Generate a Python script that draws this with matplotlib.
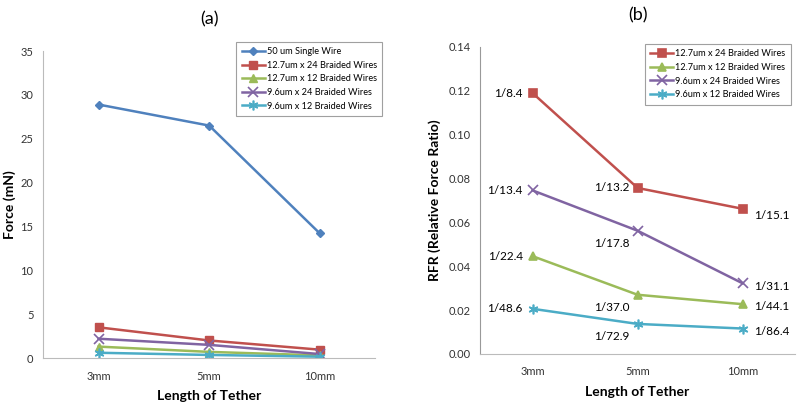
import matplotlib.pyplot as plt

plt.rcParams['font.family'] = ['Lato', 'DejaVu Sans']

# categorias del eje x
longitudes = ['3mm', '5mm', '10mm']

# (a) fuerza en mN
fuerza_50_single = [28.9, 26.5, 14.2]
fuerza_127_24 = [3.5, 2.0, 0.95]
fuerza_127_12 = [1.3, 0.7, 0.3]
fuerza_96_24 = [2.2, 1.5, 0.45]
fuerza_96_12 = [0.6, 0.35, 0.15]

# (b) RFR
rfr_127_24 = [0.119, 0.0757, 0.0662]
rfr_127_12 = [0.0446, 0.0270, 0.0227]
rfr_96_24 = [0.0746, 0.0562, 0.0322]
rfr_96_12 = [0.0206, 0.0137, 0.0116]

etq_127_24 = ['1/8.4', '1/13.2', '1/15.1']
etq_127_12 = ['1/22.4', '1/37.0', '1/44.1']
etq_96_24 = ['1/13.4', '1/17.8', '1/31.1']
etq_96_12 = ['1/48.6', '1/72.9', '1/86.4']

nombres = ['50 um Single Wire', '12.7um x 24 Braided Wires', '12.7um x 12 Braided Wires',
           '9.6um x 24 Braided Wires', '9.6um x 12 Braided Wires']

azul = '#4F81BD'
rojo = '#C0504D'
verde = '#9BBB59'
morado = '#8064A2'
cian = '#4BACC6'

fig = plt.figure(figsize=(8, 4.05), dpi=100)
ax1 = fig.add_axes([0.054, 0.116, 0.415, 0.758])
ax2 = fig.add_axes([0.600, 0.126, 0.394, 0.758])

x = range(len(longitudes))
lw = 1.8

# panel (a)
ax1.plot(x, fuerza_50_single, color=azul, marker='D', ms=4.5, lw=lw, label=nombres[0])
ax1.plot(x, fuerza_127_24, color=rojo, marker='s', ms=6, lw=lw, label=nombres[1])
ax1.plot(x, fuerza_127_12, color=verde, marker='^', ms=6, lw=lw, label=nombres[2])
ax1.plot(x, fuerza_96_24, color=morado, marker='x', ms=7, mew=1.2, lw=lw, label=nombres[3])
ax1.plot(x, fuerza_96_12, color=cian, marker=(6, 2, 0), ms=7, mew=1.2, lw=lw, label=nombres[4])

ax1.set_ylim(0, 35)
ax1.set_yticks(range(0, 36, 5))
ax1.set_ylabel('Force (mN)', fontsize=10, fontweight='bold', labelpad=3)

# panel (b)
series_b = [(rfr_127_24, etq_127_24, rojo, 's', 6, nombres[1]),
            (rfr_127_12, etq_127_12, verde, '^', 6, nombres[2]),
            (rfr_96_24, etq_96_24, morado, 'x', 7, nombres[3]),
            (rfr_96_12, etq_96_12, cian, (6, 2, 0), 7, nombres[4])]
for vals, etqs, col, mk, ms, nom in series_b:
    ax2.plot(x, vals, color=col, marker=mk, ms=ms, mew=1.2, lw=lw, label=nom)

# posicion de las etiquetas
for i, (vals, etqs) in enumerate([(rfr_127_24, etq_127_24), (rfr_127_12, etq_127_12),
                                  (rfr_96_24, etq_96_24), (rfr_96_12, etq_96_12)]):
    ax2.annotate(etqs[0], (0, vals[0]), xytext=(-7, 0), textcoords='offset points',
                 ha='right', va='center', fontsize=8.5)
    dy = 0 if i == 0 else -9
    ax2.annotate(etqs[1], (1, vals[1]), xytext=(-6, dy), textcoords='offset points',
                 ha='right', va='center', fontsize=8.5)
    dy = -5 if i == 0 else -2
    ax2.annotate(etqs[2], (2, vals[2]), xytext=(8, dy), textcoords='offset points',
                 ha='left', va='center', fontsize=8.5)

ax2.set_ylim(0, 0.14)
ax2.set_yticks([0, 0.02, 0.04, 0.06, 0.08, 0.10, 0.12, 0.14])
ax2.set_yticklabels(['%.2f' % v for v in ax2.get_yticks()])
ax2.set_ylabel('RFR (Relative Force Ratio)', fontsize=10, fontweight='bold', labelpad=5)

for ax, tit in [(ax1, '(a)'), (ax2, '(b)')]:
    ax.set_xlim(-0.5, 2.5)
    ax.set_xticks(list(x))
    ax.set_xticklabels(longitudes)
    ax.set_xlabel('Length of Tether', fontsize=10, fontweight='bold', labelpad=6)
    ax.tick_params(length=0, labelsize=8, colors='#333333', pad=9)
    ax.tick_params(axis='y', pad=7)
    for s in ['top', 'right']:
        ax.spines[s].set_visible(False)
    for s in ['left', 'bottom']:
        ax.spines[s].set_color('#BBBBBB')
    ax.set_title(tit, fontsize=13, y=1.06)
    leg = ax.legend(loc='upper right', fontsize=6.6, frameon=True, fancybox=False,
                    handlelength=2.5, borderpad=0.6, labelspacing=0.5, handletextpad=0.2)
    leg.get_frame().set_edgecolor('#888888')
    leg.get_frame().set_linewidth(0.8)

ax1.legend_.set_bbox_to_anchor((1.035, 1.045))
ax2.legend_.set_bbox_to_anchor((1.0, 1.025))
ax2.spines['left'].set_color('#999999')

fig.savefig('out.png', dpi=100)
